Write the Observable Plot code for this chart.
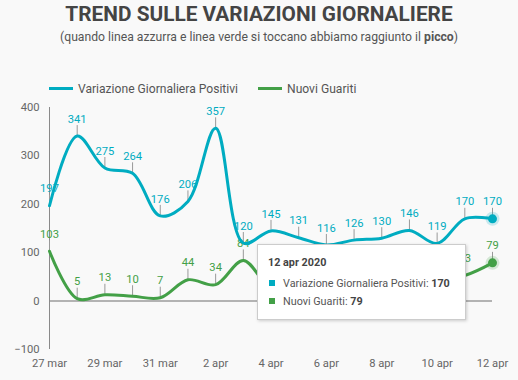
<!DOCTYPE html>
<html>
<head>
<meta charset="utf-8">
<script src="https://cdn.jsdelivr.net/npm/d3@7"></script>
<script src="https://cdn.jsdelivr.net/npm/@observablehq/plot@0.6"></script>
<style>
  html, body { margin: 0; padding: 0; }
  body { width: 518px; height: 380px; background: #f9f9f9; font-family: Roboto, sans-serif; position: relative; overflow: hidden; }
  #title { position: absolute; left: 0; width: 518px; top: 2px; line-height: 24px; text-align: center; font-size: 20.8px; font-weight: bold; color: #444; }
  #subtitle { position: absolute; left: 0; width: 518px; top: 29px; line-height: 16px; text-align: center; font-size: 12.2px; color: #555; }
  #legend { position: absolute; top: 81px; left: 49px; height: 16px; font-size: 12.1px; color: #555; }
  .li { position: absolute; top: 0; white-space: nowrap; line-height: 16px; }
  .li span.sw { display: inline-block; width: 24px; height: 3px; vertical-align: middle; margin-right: 5px; position: relative; top: -1px; }
  #chart { position: absolute; top: 96px; left: 0; }
  #tip { position: absolute; left: 257px; top: 244px; width: 207px; height: 74px; background: #fff; border: 1px solid #ccc; box-shadow: 1px 1px 3px rgba(0,0,0,0.18); font-size: 10.8px; color: #555; }
  #tip .h { position: absolute; left: 10px; top: 11px; font-weight: bold; color: #444; }
  #tip .r { position: absolute; left: 11px; white-space: nowrap; }
  #tip .r i { display: inline-block; width: 6px; height: 6px; margin-right: 8px; vertical-align: middle; position: relative; top: -1px; }
  #tip b { color: #444; }
</style>
</head>
<body>
<div id="title">TREND SULLE VARIAZIONI GIORNALIERE</div>
<div id="subtitle">(quando linea azzurra e linea verde si toccano abbiamo raggiunto il <b>picco</b>)</div>
<div id="legend"></div>
<div id="chart"></div>
<div id="tip"></div>
<script>
const dates = ["2020-03-27","2020-03-28","2020-03-29","2020-03-30","2020-03-31","2020-04-01","2020-04-02","2020-04-03","2020-04-04","2020-04-05","2020-04-06","2020-04-07","2020-04-08","2020-04-09","2020-04-10","2020-04-11","2020-04-12"];
const positivi = [197, 341, 275, 264, 176, 206, 357, 120, 145, 131, 116, 126, 130, 146, 119, 170, 170];
const guariti  = [103, 5, 13, 10, 7, 44, 34, 84, 28, 40, 36, 52, 47, 58, 45, 53, 79];
// green points 4–10 apr sit under the tooltip in the reference; their labels are not visible there
const hiddenLabelDates = ["2020-04-04","2020-04-05","2020-04-06","2020-04-07","2020-04-08","2020-04-09","2020-04-10"];
const seriesNames = ["Variazione Giornaliera Positivi", "Nuovi Guariti"];
const seriesColors = ["#00acc1", "#43a047"];
const yTicks = [-100, 0, 100, 200, 300, 400];
const xTickDates = ["2020-03-27","2020-03-29","2020-03-31","2020-04-02","2020-04-04","2020-04-06","2020-04-08","2020-04-10","2020-04-12"];
const xTickLabels = ["27 mar","29 mar","31 mar","2 apr","4 apr","6 apr","8 apr","10 apr","12 apr"];
const tooltipTitle = "12 apr 2020";

const parse = s => new Date(s + "T00:00:00Z");
const rows = [];
[positivi, guariti].forEach((vals, si) => {
  vals.forEach((v, i) => rows.push({date: parse(dates[i]), value: v, series: seriesNames[si], i,
    labelled: !(si === 1 && hiddenLabelDates.includes(dates[i]))}));
});
const labelled = rows.filter(d => d.labelled);
const tickDates = xTickDates.map(parse);
const fmt = d => { const k = tickDates.findIndex(t => +t === +d); return k >= 0 ? xTickLabels[k] : ""; };

const stem = { draw(ctx, size) { ctx.moveTo(0, -1); ctx.lineTo(0, -11); } };
const colorOf = d => seriesColors[seriesNames.indexOf(d.series)];
const last = rows.filter(d => d.i === dates.length - 1);

const chart = Plot.plot({
  width: 518, height: 284,
  marginLeft: 49, marginRight: 26, marginTop: 11, marginBottom: 31,
  style: { background: "transparent", fontFamily: "Roboto, sans-serif", fontSize: "11px", color: "#666" },
  x: { type: "utc", domain: [parse(dates[0]), parse(dates[dates.length - 1])] },
  y: { domain: [-100, 400] },
  marks: [
    Plot.ruleY([0], { stroke: "#b3b3b3", strokeWidth: 2 }),
    Plot.ruleX([parse(dates[0])], { y1: -100, y2: 400, stroke: "#8a8a8a", strokeWidth: 1 }),
    Plot.axisX({ ticks: tickDates, tickFormat: fmt, tickSize: 0, tickPadding: 10, fill: "#666", fontSize: 11.2, label: null }),
    Plot.axisY({ ticks: yTicks, tickSize: 0, tickPadding: 10, fill: "#666", fontSize: 11.2, label: null }),
    Plot.dot(labelled, { x: "date", y: "value", symbol: stem, stroke: "#999", fill: "none", strokeWidth: 1, r: 3 }),
    Plot.text(labelled, { x: "date", y: "value", text: d => String(d.value), dy: -17, fill: colorOf, fontSize: 11.2 }),
    Plot.line(rows, { x: "date", y: "value", z: "series", stroke: colorOf, strokeWidth: 3, curve: "catmull-rom" }),
    Plot.dot(last, { x: "date", y: "value", r: 7, fill: colorOf, fillOpacity: 0.2, stroke: "none" }),
    Plot.dot(last, { x: "date", y: "value", r: 4.5, fill: colorOf, stroke: "none" })
  ]
});
document.getElementById("chart").appendChild(chart);

const legend = document.getElementById("legend");
const legendX = [0, 209];
seriesNames.forEach((n, k) => {
  const el = document.createElement("div");
  el.className = "li";
  el.style.left = legendX[k] + "px";
  el.innerHTML = `<span class="sw" style="background:${seriesColors[k]}"></span>${n}`;
  legend.appendChild(el);
});

const tip = document.getElementById("tip");
const li = dates.length - 1;
tip.innerHTML = `<div class="h">${tooltipTitle}</div>` +
  `<div class="r" style="top:32px"><i style="background:${seriesColors[0]}"></i>${seriesNames[0]}: <b>${positivi[li]}</b></div>` +
  `<div class="r" style="top:50px"><i style="background:${seriesColors[1]}"></i>${seriesNames[1]}: <b>${guariti[li]}</b></div>`;
</script>
</body>
</html>
